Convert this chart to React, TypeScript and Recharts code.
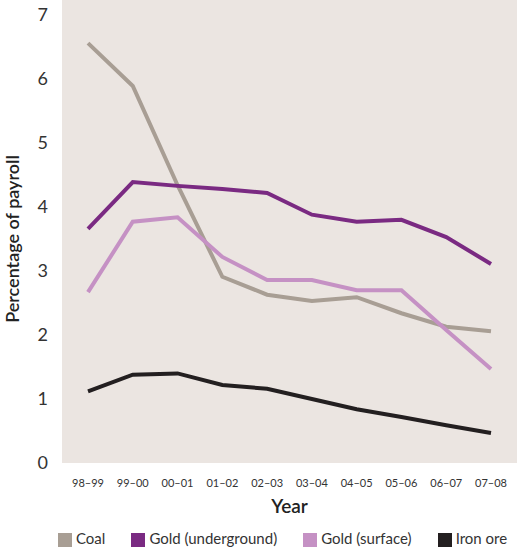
import { LineChart, Line, XAxis, YAxis, Legend } from "recharts";

const years = ["98–99", "99–00", "00–01", "01–02", "02–03", "03–04", "04–05", "05–06", "06–07", "07–08"];
const coal = [6.56, 5.89, 4.34, 2.91, 2.63, 2.53, 2.59, 2.34, 2.13, 2.06];
const goldUnderground = [3.66, 4.39, 4.33, 4.28, 4.22, 3.88, 3.77, 3.8, 3.53, 3.11];
const goldSurface = [2.67, 3.77, 3.84, 3.22, 2.86, 2.86, 2.7, 2.7, 2.08, 1.47];
const ironOre = [1.12, 1.38, 1.4, 1.22, 1.16, 1.0, 0.84, 0.72, 0.59, 0.47];
const yTicks = [0, 1, 2, 3, 4, 5, 6, 7];

const data = years.map((year, i) => ({
  year,
  coal: coal[i],
  goldU: goldUnderground[i],
  goldS: goldSurface[i],
  iron: ironOre[i],
}));

const font = "Lato, 'Open Sans', sans-serif";

export default function App() {
  return (
    <div style={{ position: "absolute", left: 0, top: 0, width: 517, height: 551, background: "#fff", fontFamily: font }}>
      <div style={{ position: "absolute", left: 62, top: 0, width: 455, height: 463, background: "#ebe5e1" }} />
      <LineChart
        width={517}
        height={551}
        data={data}
        margin={{ top: 15, right: 0, left: 0, bottom: 0 }}
        style={{ position: "absolute", left: 0, top: 0 }}
      >
        <XAxis
          dataKey="year"
          padding={{ left: 26, right: 26 }}
          axisLine={false}
          tickLine={false}
          tick={{ fill: "#333", fontSize: 11, fontFamily: font }}
          height={64}
          tickMargin={10}
          label={{ value: "Year", position: "insideTop", dy: 32, fill: "#222", fontSize: 19, fontWeight: 600, fontFamily: font }}
        />
        <YAxis
          domain={[0, 7]}
          ticks={yTicks}
          width={62}
          axisLine={false}
          tickLine={false}
          tick={{ fill: "#333", fontSize: 18, fontFamily: font }}
          tickMargin={8}
          label={{ value: "Percentage of payroll", angle: -90, position: "insideLeft", dx: 8, fill: "#222", fontSize: 18, fontWeight: 600, fontFamily: font, style: { textAnchor: "middle" } }}
        />
        <Legend
          iconType="square"
          iconSize={14}
          verticalAlign="bottom"
          align="left"
          itemSorter={null}
          height={24}
          wrapperStyle={{ fontSize: 15, fontFamily: font, left: 58, bottom: -2 }}
          formatter={(v) => <span style={{ color: "#333", marginRight: 16 }}>{v}</span>}
        />
        <Line dataKey="coal" name="Coal" stroke="#a89e94" strokeWidth={4} dot={false} isAnimationActive={false} />
        <Line dataKey="goldU" name="Gold (underground)" stroke="#7a2a82" strokeWidth={4} dot={false} isAnimationActive={false} />
        <Line dataKey="goldS" name="Gold (surface)" stroke="#c591c4" strokeWidth={4} dot={false} isAnimationActive={false} />
        <Line dataKey="iron" name="Iron ore" stroke="#231f20" strokeWidth={4} dot={false} isAnimationActive={false} />
      </LineChart>
    </div>
  );
}
